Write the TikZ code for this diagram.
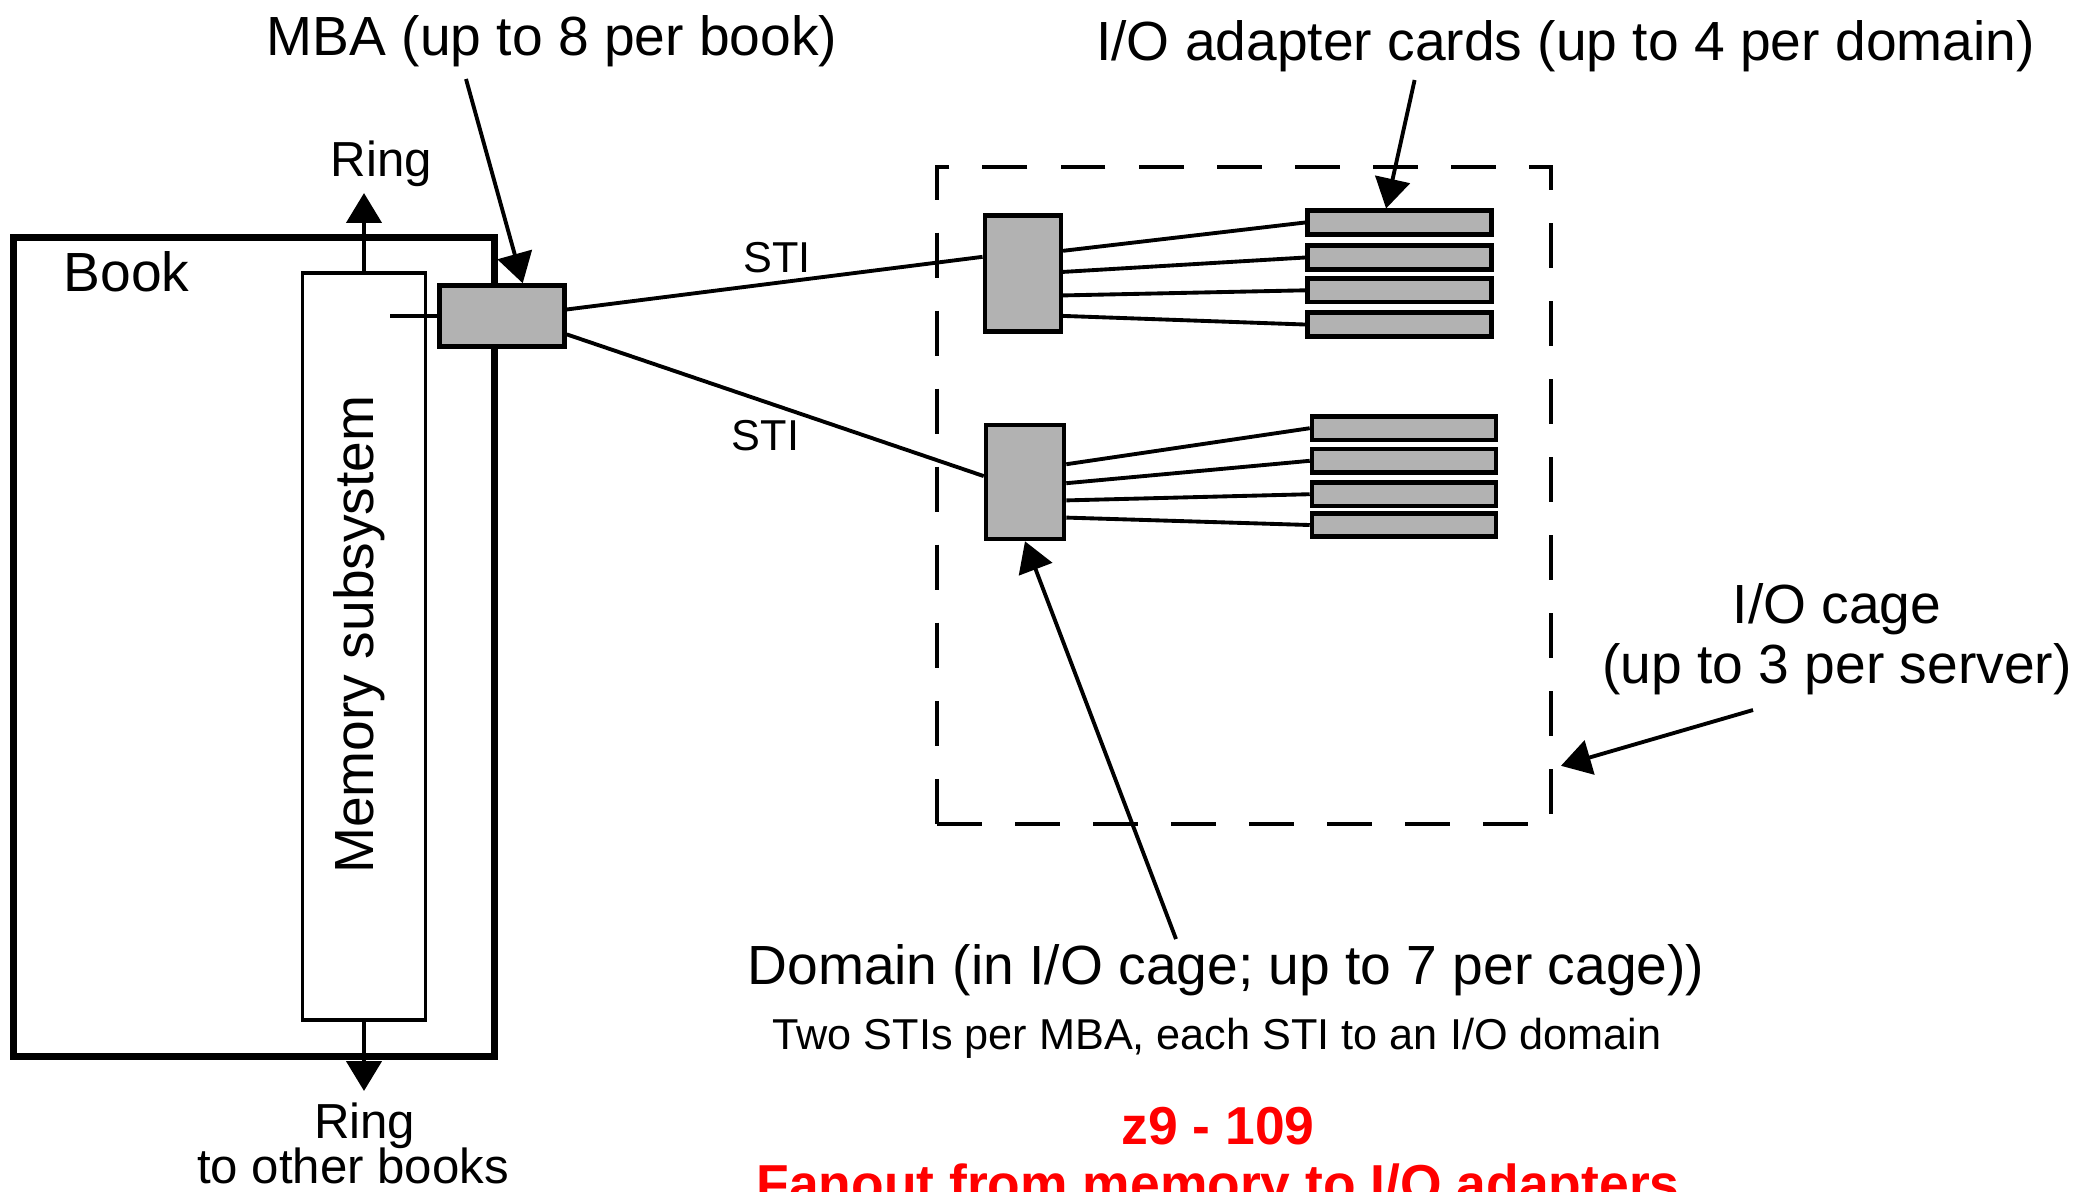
\documentclass[tikz,border=0pt]{standalone}
\usepackage{fontspec}
\setmainfont{Liberation Sans}
\usetikzlibrary{arrows.meta,calc}

\tikzset{
  grayblk/.style={draw,fill=black!30,line width=1.3pt,inner sep=0pt},
  card/.style={grayblk,minimum width=1.84cm,minimum height=0.235cm},
  wire/.style={line width=1.1pt},
  pointer/.style={line width=1.1pt,-{Triangle[length=8.5pt,width=10pt]}},
  lbl/.style={font=\fontsize{15.7}{17}\selectfont,inner sep=0pt,anchor=base},
  smalllbl/.style={lbl,font=\fontsize{12.3}{14}\selectfont},
  ringlbl/.style={lbl,font=\fontsize{14}{15}\selectfont},
  redlbl/.style={lbl,font=\fontsize{15.2}{16}\selectfont\bfseries,text=red},
}

\begin{document}
\begin{tikzpicture}
\useasboundingbox (0,0) rectangle (20.99,-11.91);
\clip (0,0) rectangle (20.99,-11.91);

% book with its memory
\node[draw,line width=2pt,minimum width=4.81cm,minimum height=8.19cm,inner sep=0pt] (book) at (2.537,-6.465) {};
\node[lbl] (booklbl) at (1.265,-2.91) {Book};
\node[draw,line width=1.1pt,minimum width=1.23cm,minimum height=7.47cm,inner sep=0pt] (mem) at (3.64,-6.465) {};
\node[lbl,rotate=90,anchor=center] (memlbl) at (3.59,-6.345) {Memory subsystem};

\coordinate (ringtop) at ($(mem.north)+(0,0.78)$);
\coordinate (ringbot) at ($(mem.south)+(0,-0.69)$);
\draw[pointer] (mem.north) -- (ringtop);
\draw[pointer] (mem.south) -- (ringbot);
\node[ringlbl] (ringup) at (3.815,-1.76) {Ring};
\node[ringlbl] (ringdown) at (3.647,-11.38) {Ring};
\node[ringlbl] (otherbooks) at (3.53,-11.83) {to other books};

% MBA
\node[grayblk,minimum width=1.25cm,minimum height=0.61cm] (mba) at (5.02,-3.16) {};
\coordinate (memtap) at ($(mba.west)+(-0.47,0)$);
\draw[wire] (memtap) -- (mba.west);

\node[lbl] (mbalbl) at (5.52,-0.55) {MBA (up to 8 per book)};
\coordinate (mbatail) at (4.66,-0.79);
\draw[pointer] (mbatail) -- ($(mba.north west)!0.66!(mba.north east)$);

% I/O cage
\node[draw,line width=1.1pt,dash pattern=on 12.8pt off 9.4pt,minimum width=6.14cm,minimum height=6.57cm,inner sep=0pt] (cage) at (12.44,-4.955) {};

\node[grayblk,minimum width=0.76cm,minimum height=1.16cm] (dom1) at (10.228,-2.737) {};
\node[grayblk,minimum width=0.78cm,minimum height=1.14cm] (dom2) at (10.25,-4.82) {};

\foreach \y [count=\i] in {2.225,2.575,2.903,3.245}
  \node[card] (card\i) at (13.993,-\y) {};
\foreach \y [count=\i from 5] in {4.282,4.608,4.942,5.25}
  \node[card] (card\i) at (14.04,-\y) {};

\foreach \f [count=\i] in {0.31,0.485,0.68,0.85}
  \draw[wire] ($(dom1.north east)!\f!(dom1.south east)$) -- (card\i.west);
\foreach \f [count=\i from 5] in {0.35,0.51,0.655,0.80}
  \draw[wire] ($(dom2.north east)!\f!(dom2.south east)$) -- (card\i.west);

% STIs
\draw[wire] ($(mba.north east)!0.40!(mba.south east)$) -- ($(dom1.north west)!0.36!(dom1.south west)$);
\draw[wire] ($(mba.north east)!0.78!(mba.south east)$) -- ($(dom2.north west)!0.45!(dom2.south west)$);
\node[smalllbl] (sti1) at (7.77,-2.727) {STI};
\node[smalllbl] (sti2) at (7.655,-4.50) {STI};

% labels and pointers
\node[lbl] (cardlbl) at (15.655,-0.60) {I/O adapter cards (up to 4 per domain)};
\coordinate (cardtail) at (14.146,-0.80);
\draw[pointer] (cardtail) -- ($(card1.north west)!0.43!(card1.north east)$);

\node[lbl,align=center] (cagelbl) at (18.37,-6.833) {I/O cage\\(up to 3 per server)};
\coordinate (cagetail) at (17.53,-7.10);
\draw[pointer] (cagetail) -- ($(cage.north east)!0.909!(cage.south east)+(0.08,0)$);

\node[lbl] (domlbl) at (12.26,-9.84) {Domain (in I/O cage; up to 7 per cage))};
\coordinate (domtail) at (11.76,-9.39);
\draw[pointer] (domtail) -- (dom2.south);

\node[smalllbl] (note) at (12.17,-10.49) {Two STIs per MBA, each STI to an I/O domain};

\node[redlbl] (title) at (12.18,-11.44) {z9 - 109};
\node[redlbl] (subtitle) at (12.18,-12.02) {Fanout from memory to I/O adapters};
\end{tikzpicture}
\end{document}
